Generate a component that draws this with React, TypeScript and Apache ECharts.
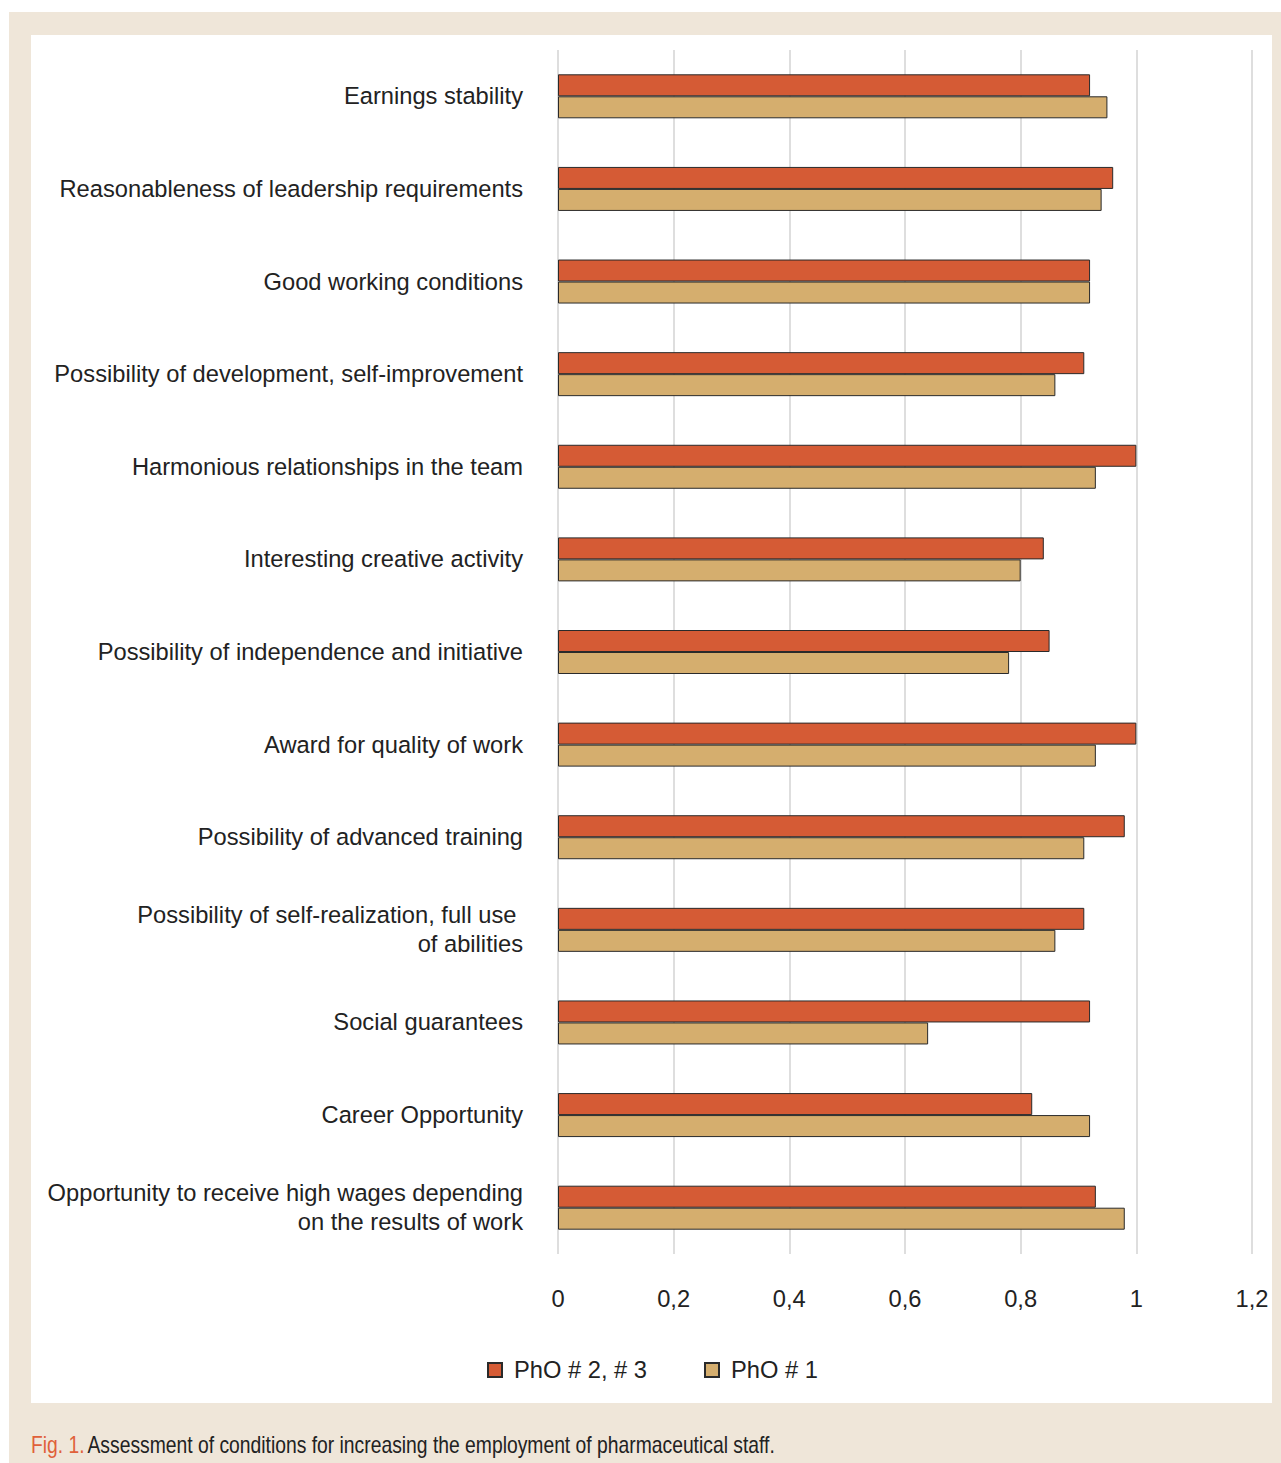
import React, { useEffect, useRef } from "react";
import * as echarts from "echarts";

const categories = [
  "Earnings stability",
  "Reasonableness of leadership requirements",
  "Good working conditions",
  "Possibility of development, self-improvement",
  "Harmonious relationships in the team",
  "Interesting creative activity",
  "Possibility of independence and initiative",
  "Award for quality of work",
  "Possibility of advanced training",
  "Possibility of self-realization, full use \nof abilities",
  "Social guarantees",
  "Career Opportunity",
  "Opportunity to receive high wages depending\non the results of work",
];

const pho23 = [0.92, 0.96, 0.92, 0.91, 1.0, 0.84, 0.85, 1.0, 0.98, 0.91, 0.92, 0.82, 0.93];
const pho1 = [0.95, 0.94, 0.92, 0.86, 0.93, 0.8, 0.78, 0.93, 0.91, 0.86, 0.64, 0.92, 0.98];

const seriesNames = ["PhO # 2, # 3", "PhO # 1"];
const xTicks = { min: 0, max: 1.2, interval: 0.2 };

const RED = "#D55B35";
const TAN = "#D5AE6E";
const BEIGE = "#EFE6D9";
const FONT = "'Liberation Sans', Arial, Helvetica, sans-serif";
const FS = 23.7;

export default function App() {
  const ref = useRef<HTMLDivElement>(null);
  useEffect(() => {
    const chart = echarts.init(ref.current!, null, { renderer: "svg" });
    chart.setOption({
      animation: false,
      backgroundColor: "#ffffff",
      textStyle: { fontFamily: FONT },
      graphic: [
        { type: "rect", z: -10, shape: { x: 9, y: 12, width: 1272, height: 1451 }, style: { fill: BEIGE } },
        { type: "rect", z: -9, shape: { x: 31, y: 35, width: 1241, height: 1368 }, style: { fill: "#ffffff" } },
        {
          type: "text",
          x: 31,
          y: 1445,
          scaleX: 0.84,
          style: {
            text: "{a|Fig. 1.} {b|Assessment of conditions for increasing the employment of pharmaceutical staff.}",
            verticalAlign: "middle",
            rich: {
              a: { fill: "#E0603A", fontSize: 23, fontFamily: FONT },
              b: { fill: "#222", fontSize: 23, fontFamily: FONT },
            },
          },
        },
      ],
      legend: {
        data: seriesNames,
        left: 482,
        top: 1353,
        itemWidth: 14,
        itemHeight: 14,
        itemGap: 57,
        icon: "rect",
        formatter: (name: string) => "{t|" + name + "}",
        textStyle: {
          fontSize: FS,
          color: "#222",
          fontFamily: FONT,
          rich: { t: { fontSize: FS, color: "#222", fontFamily: FONT, padding: [0, 0, 0, 7] } },
        },
      },
      grid: { left: 558, right: 29, top: 50, height: 1204, containLabel: false },
      xAxis: {
        type: "value",
        min: xTicks.min,
        max: xTicks.max,
        interval: xTicks.interval,
        axisLine: { show: false },
        axisTick: { show: false },
        splitLine: { show: true, lineStyle: { color: "#d3d3d3", width: 1.5 } },
        axisLabel: {
          margin: 33,
          fontSize: FS,
          color: "#222",
          fontFamily: FONT,
          formatter: (v: number) => String(Math.round(v * 10) / 10).replace(".", ","),
        },
      },
      yAxis: {
        type: "category",
        data: categories,
        inverse: true,
        axisLine: { show: false },
        axisTick: { show: false },
        axisLabel: {
          margin: 35,
          fontSize: FS,
          color: "#222",
          lineHeight: 29,
          align: "right",
          fontFamily: FONT,
        },
      },
      series: [
        {
          name: seriesNames[0],
          type: "bar",
          data: pho23,
          barWidth: 22,
          barGap: "0%",
          itemStyle: { color: RED, borderColor: "#2a2a2a", borderWidth: 1 },
        },
        {
          name: seriesNames[1],
          type: "bar",
          data: pho1,
          barWidth: 22,
          barGap: "0%",
          itemStyle: { color: TAN, borderColor: "#2a2a2a", borderWidth: 1 },
        },
      ],
    });
    return () => chart.dispose();
  }, []);
  return (
    <div
      ref={ref}
      style={{ position: "absolute", left: 0, top: 0, width: 1281, height: 1463 }}
    />
  );
}
